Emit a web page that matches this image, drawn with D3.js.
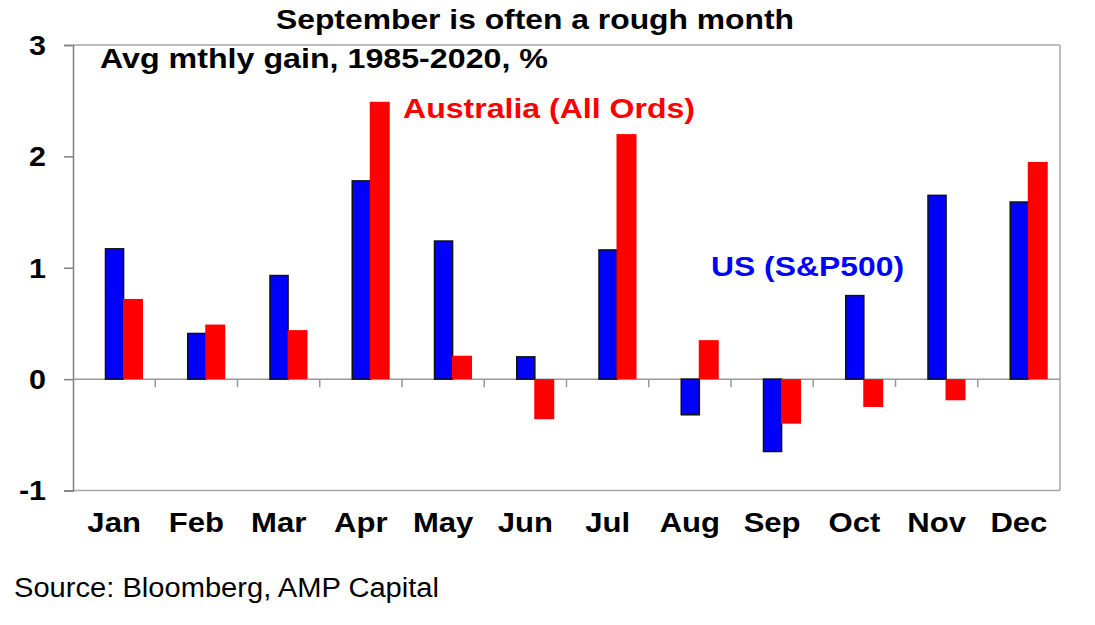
<!DOCTYPE html>
<html><head><meta charset="utf-8">
<script src="https://cdn.jsdelivr.net/npm/d3@7"></script>
<style>body{margin:0;background:#fff}svg{display:block}text{font-family:"Liberation Sans",Arial,sans-serif}</style>
</head><body><svg id="c" width="1095" height="625"></svg>
<script>
const months = ["Jan","Feb","Mar","Apr","May","Jun","Jul","Aug","Sep","Oct","Nov","Dec"];
const usValues = [1.17, 0.41, 0.93, 1.78, 1.24, 0.20, 1.16, -0.32, -0.65, 0.75, 1.65, 1.59];
const ausValues = [0.72, 0.49, 0.44, 2.49, 0.21, -0.36, 2.20, 0.35, -0.40, -0.25, -0.19, 1.95];
const yTicks = [-1, 0, 1, 2, 3];
const yTickLabels = ["-1", "0", "1", "2", "3"];
const titleText = "September is often a rough month";
const subtitleText = "Avg mthly gain, 1985-2020, %";
const ausLabel = "Australia (All Ords)";
const usLabel = "US (S&P500)";
const sourceText = "Source: Bloomberg, AMP Capital";

const svg = d3.select("#c");
const L = 73, R = 1060, T = 45, B = 490.5;
const x = d3.scaleBand().domain(months).range([L, R]);
const y = d3.scaleLinear().domain([-1, 3]).range([B, T]);
const bw = x.bandwidth();

function fit(sel, w){ sel.attr("textLength", w).attr("lengthAdjust","spacingAndGlyphs"); return sel; }
function stretch(sel, k){ sel.each(function(){ const n=this.getComputedTextLength(); d3.select(this).attr("textLength", n*k).attr("lengthAdjust","spacingAndGlyphs"); }); return sel; }

// plot frame
svg.append("line").attr("x1",L).attr("x2",R).attr("y1",T).attr("y2",T).attr("stroke","#a6a6a6").attr("stroke-width",1.5);
svg.append("line").attr("x1",R).attr("x2",R).attr("y1",T).attr("y2",B).attr("stroke","#a6a6a6").attr("stroke-width",1.5);
svg.append("line").attr("x1",L).attr("x2",R).attr("y1",B).attr("y2",B).attr("stroke","#a6a6a6").attr("stroke-width",1.5);

// y axis
const yAxis = d3.axisLeft(y).tickValues(yTicks).tickSize(9).tickPadding(18)
  .tickFormat(d => yTickLabels[yTicks.indexOf(d)]);
const ga = svg.append("g").attr("transform",`translate(${L},0)`).call(yAxis);
ga.select(".domain").attr("stroke","#808080").attr("stroke-width",1.5);
ga.selectAll(".tick line").attr("stroke","#808080").attr("stroke-width",1.5);
ga.selectAll(".tick text").attr("font-size",27).attr("font-weight","bold").attr("fill","#000").attr("dy","0.35em")
  .attr("font-family","'Liberation Sans',Arial,sans-serif");
ga.selectAll(".tick text").call(stretch, 1.13);

// zero line + ticks
svg.append("line").attr("x1",L).attr("x2",R).attr("y1",y(0)).attr("y2",y(0)).attr("stroke","#999").attr("stroke-width",1.5);
const xAxis = d3.axisBottom(x).tickValues(months.slice(1)).tickSize(8).tickFormat("");
const gx = svg.append("g").attr("transform",`translate(${-bw/2},${y(0)})`).call(xAxis);
gx.select(".domain").remove();
gx.selectAll(".tick line").attr("stroke","#999").attr("stroke-width",1.5);

// bars
svg.append("g").selectAll("rect").data(months).join("rect")
  .attr("x", m => x(m) + bw*0.395)
  .attr("width", bw*0.22)
  .attr("y", (m,i) => y(Math.max(0, usValues[i])))
  .attr("height", (m,i) => Math.abs(y(usValues[i]) - y(0)))
  .attr("fill","#0000ff").attr("stroke","#111").attr("stroke-width",1.5);
svg.append("g").selectAll("rect").data(months).join("rect")
  .attr("x", m => x(m) + bw*0.608)
  .attr("width", bw*0.243)
  .attr("y", (m,i) => y(Math.max(0, ausValues[i])))
  .attr("height", (m,i) => Math.abs(y(ausValues[i]) - y(0)))
  .attr("fill","#ff0000");

// month labels
svg.append("g").selectAll("text").data(months).join("text")
  .attr("x", m => x(m) + bw/2).attr("y", 532)
  .attr("text-anchor","middle").attr("font-size",27).attr("font-weight","bold").text(m => m)
  .call(stretch, 1.15);

// texts
svg.append("text").attr("x",535).attr("y",29).attr("text-anchor","middle").attr("font-size",28).attr("font-weight","bold").text(titleText).call(fit,518);
svg.append("text").attr("x",100).attr("y",68).attr("font-size",27).attr("font-weight","bold").text(subtitleText).call(fit,448);
svg.append("text").attr("x",403).attr("y",118).attr("font-size",27).attr("font-weight","bold").attr("fill","#ff0000").text(ausLabel).call(fit,292);
svg.append("text").attr("x",711).attr("y",276).attr("font-size",27).attr("font-weight","bold").attr("fill","#0000ff").text(usLabel).call(fit,193);
svg.append("text").attr("x",14).attr("y",597).attr("font-size",27).text(sourceText).call(fit,425);
</script></body></html>
